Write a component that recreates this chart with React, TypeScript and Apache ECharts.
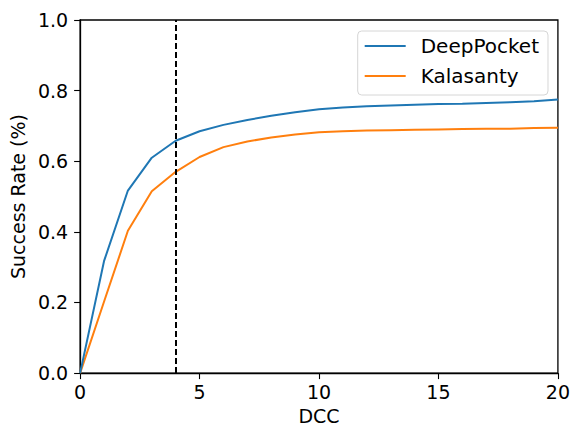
import React, { useEffect, useRef } from "react";
import * as echarts from "echarts";

const dccValues = [0, 1, 2, 3, 4, 5, 6, 7, 8, 9, 10, 11, 12, 13, 14, 15, 16, 17, 18, 19, 20];
const deepPocket = [0, 0.317, 0.517, 0.61, 0.658, 0.685, 0.703, 0.717, 0.729, 0.739, 0.747, 0.752, 0.756, 0.758, 0.76, 0.762, 0.763, 0.765, 0.767, 0.77, 0.775];
const kalasanty = [0, 0.202, 0.403, 0.515, 0.57, 0.612, 0.64, 0.656, 0.667, 0.676, 0.682, 0.685, 0.687, 0.688, 0.689, 0.69, 0.691, 0.692, 0.692, 0.694, 0.695];
const thresholdDcc = 4;
const seriesNames = ["DeepPocket", "Kalasanty"];

const FONT = "DejaVu Sans";

export default function App() {
  const ref = useRef<HTMLDivElement>(null);
  useEffect(() => {
    if (!ref.current) return;
    const chart = echarts.init(ref.current, null, { renderer: "svg" });
    const toPairs = (ys: number[]) => dccValues.map((x, i) => [x, ys[i]]);
    chart.setOption({
      animation: false,
      textStyle: { fontFamily: FONT },
      grid: {
        left: 80,
        top: 20,
        right: 14.5,
        bottom: 52.6,
        show: true,
        borderColor: "#000",
        borderWidth: 1.3,
        backgroundColor: "transparent",
      },
      legend: {
        orient: "vertical",
        right: 25,
        top: 31,
        data: seriesNames,
        icon: "rect",
        itemWidth: 41,
        itemHeight: 2,
        itemGap: 10,
        backgroundColor: "#fff",
        borderColor: "#d6d6d6",
        borderWidth: 1,
        borderRadius: 4,
        padding: [5, 9, 9, 7],
        textStyle: {
          fontFamily: FONT,
          fontSize: 20,
          color: "#000",
          lineHeight: 20,
          padding: [0, 0, 0, 10],
        },
      },
      xAxis: {
        type: "value",
        min: 0,
        max: 20,
        interval: 5,
        name: "DCC",
        nameLocation: "middle",
        nameGap: 31,
        nameTextStyle: { fontFamily: FONT, fontSize: 19, color: "#000" },
        axisLine: { show: true, onZero: false, lineStyle: { color: "#000", width: 1.3 } },
        axisTick: { show: true, inside: false, length: 6, lineStyle: { color: "#000", width: 1.1 } },
        axisLabel: { fontFamily: FONT, fontSize: 19, color: "#000", margin: 9 },
        splitLine: { show: false },
      },
      yAxis: {
        type: "value",
        min: 0,
        max: 1,
        interval: 0.2,
        name: "Success Rate (%)",
        nameLocation: "middle",
        nameGap: 50,
        nameTextStyle: { fontFamily: FONT, fontSize: 19, color: "#000" },
        axisLine: { show: true, lineStyle: { color: "#000", width: 1.3 } },
        axisTick: { show: true, inside: false, length: 6, lineStyle: { color: "#000", width: 1.1 } },
        axisLabel: {
          fontFamily: FONT,
          fontSize: 19,
          color: "#000",
          margin: 12,
          formatter: (v: number) => v.toFixed(1),
        },
        splitLine: { show: false },
      },
      series: [
        {
          name: seriesNames[0],
          type: "line",
          data: toPairs(deepPocket),
          showSymbol: false,
          symbol: "none",
          lineStyle: { color: "#1f77b4", width: 2 },
          itemStyle: { color: "#1f77b4" },
          markLine: {
            silent: true,
            symbol: "none",
            label: { show: false },
            lineStyle: { color: "#000", type: [6, 3], width: 2 },
            data: [{ xAxis: thresholdDcc }],
          },
          z: 3,
        },
        {
          name: seriesNames[1],
          type: "line",
          data: toPairs(kalasanty),
          showSymbol: false,
          symbol: "none",
          lineStyle: { color: "#ff7f0e", width: 2 },
          itemStyle: { color: "#ff7f0e" },
          z: 2,
        },
      ],
    });
    return () => chart.dispose();
  }, []);
  return (
    <div
      ref={ref}
      style={{ position: "fixed", left: 0, top: 0, width: 573, height: 430, background: "#fff" }}
    />
  );
}
